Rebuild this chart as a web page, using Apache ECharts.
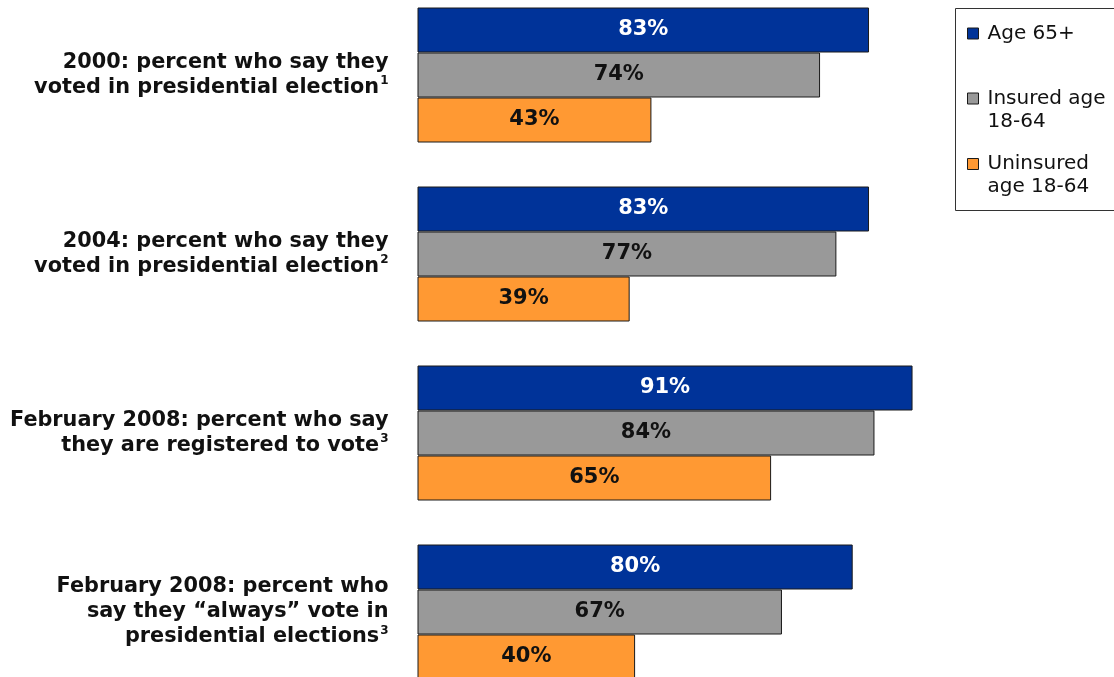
<!DOCTYPE html>
<html>
<head>
<meta charset="utf-8">
<title>Voting and registration by insurance status</title>
<script src="https://cdn.jsdelivr.net/npm/echarts@6/dist/echarts.min.js"></script>
<style>
  html, body { margin: 0; padding: 0; background: #ffffff; }
  #chart { width: 1114px; height: 677px; }
</style>
</head>
<body>
<div id="chart"></div>
<script>
// Survey questions (one row each) and their footnote markers
const categories = [
  ['2000: percent who say they', 'voted in presidential election'],
  ['2004: percent who say they', 'voted in presidential election'],
  ['February 2008: percent who say', 'they are registered to vote'],
  ['February 2008: percent who', 'say they \u201calways\u201d vote in', 'presidential elections']
];
const footnotes = ['1', '2', '3', '3'];

// Groups compared
const seriesNames = ['Age 65+', 'Insured age\n18-64', 'Uninsured\nage 18-64'];

// Percent values per group, in category order
const age65Plus = [83, 83, 91, 80];
const insured1864 = [74, 77, 84, 67];
const uninsured1864 = [43, 39, 65, 40];

const colors = ['#003399', '#999999', '#FF9933'];
const labelColors = ['#ffffff', '#111111', '#111111'];
const FONT = '"DejaVu Sans", Verdana, sans-serif';

const chart = echarts.init(document.getElementById('chart'), null, { renderer: 'canvas' });

const categoryKeys = categories.map((c, i) => 'q' + i);

function categoryLabel(value) {
  const i = categoryKeys.indexOf(value);
  const lines = categories[i];
  return lines.map((line, k) =>
    k === lines.length - 1 ? '{t|' + line + '}{s|' + footnotes[i] + '}' : '{t|' + line + '}'
  ).join('\n');
}

const values = [age65Plus, insured1864, uninsured1864];

const series = seriesNames.map((name, s) => ({
  name: name,
  type: 'bar',
  data: values[s],
  barWidth: 45,
  barGap: '0%',
  itemStyle: { color: colors[s], borderColor: '#1a1a1a', borderWidth: 1 },
  label: {
    show: true,
    position: 'inside',
    formatter: '{c}%',
    color: labelColors[s],
    fontFamily: FONT,
    fontWeight: 'bold',
    fontSize: 21
  },
  emphasis: { disabled: true }
}));

// One legend per group so each swatch sits beside the first line of its name
const legendTops = [22, 64, 129.5];
const legends = seriesNames.map((name, s) => ({
  data: [name],
  orient: 'vertical',
  left: 967,
  top: legendTops[s],
  padding: 0,
  itemWidth: 11,
  itemHeight: 11,
  itemGap: 0,
  icon: 'rect',
  selectedMode: false,
  formatter: n => (n.indexOf('\n') >= 0 ? '\n' + n : n),
  itemStyle: { borderColor: '#1a1a1a', borderWidth: 1 },
  textStyle: {
    fontFamily: FONT,
    fontSize: 20,
    lineHeight: 23,
    color: '#111111',
    padding: [0, 0, 0, 4]
  }
}));

chart.setOption({
  animation: false,
  backgroundColor: '#ffffff',
  grid: {
    left: 417.5, right: 152.5, top: -14.5, bottom: -24.5,
    containLabel: false,
    outerBoundsMode: 'none'
  },
  legend: legends,
  graphic: [{
    type: 'rect',
    shape: { x: 955.5, y: 8.5, width: 175, height: 202 },
    style: { fill: 'none', stroke: '#333333', lineWidth: 1 },
    silent: true,
    z: 0
  }],
  xAxis: {
    type: 'value',
    min: 0,
    max: 100,
    show: false
  },
  yAxis: {
    type: 'category',
    inverse: true,
    data: categoryKeys,
    axisLine: { show: false },
    axisTick: { show: false },
    axisLabel: {
      margin: 29,
      formatter: categoryLabel,
      rich: {
        t: { fontFamily: FONT, fontWeight: 'bold', fontSize: 20.8, lineHeight: 25, color: '#111111' },
        s: { fontFamily: FONT, fontWeight: 'bold', fontSize: 12, lineHeight: 25, color: '#111111', verticalAlign: 'top', padding: [0, 0, 6, 1] }
      }
    }
  },
  series: series
});
</script>
</body>
</html>
